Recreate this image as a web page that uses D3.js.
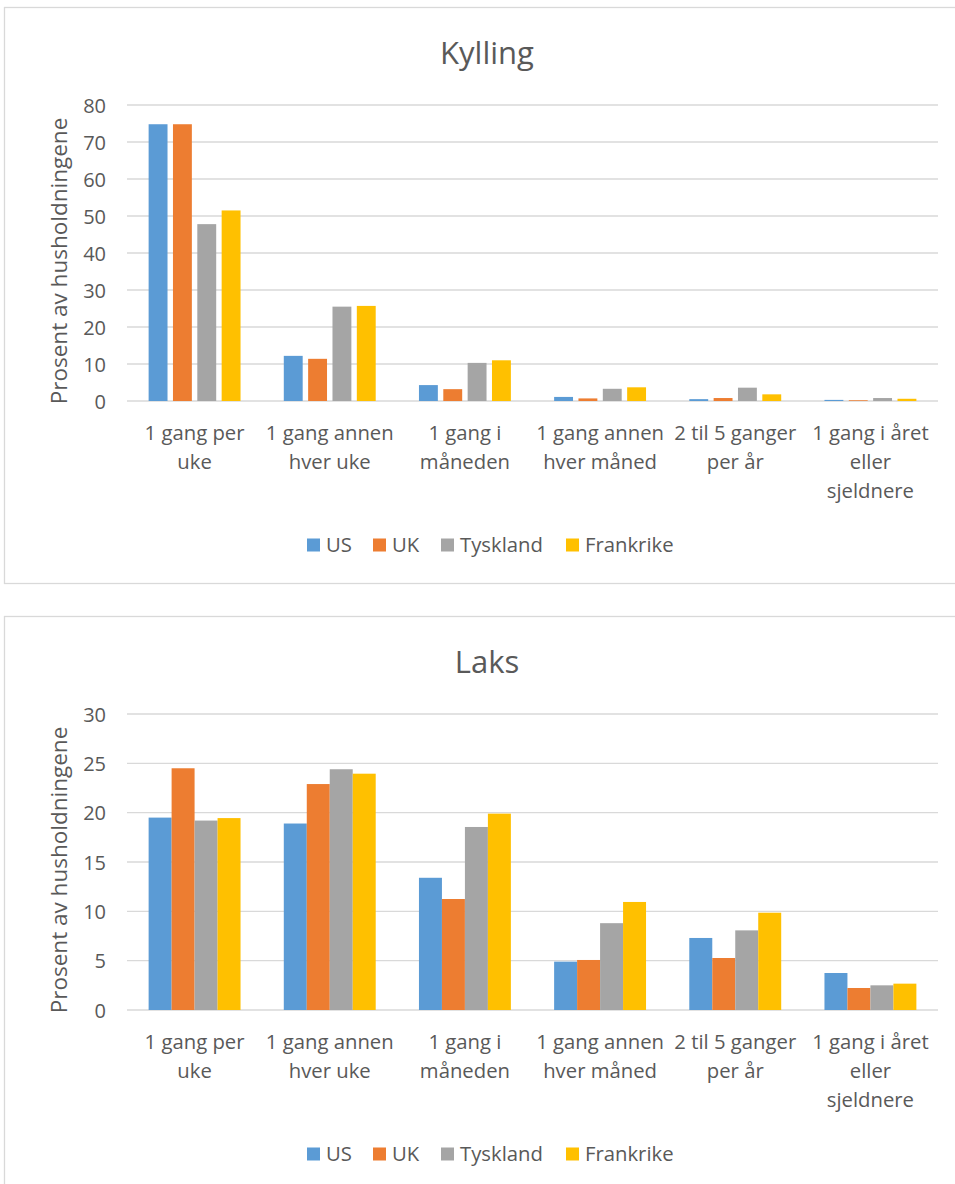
<!DOCTYPE html>
<html>
<head>
<meta charset="utf-8">
<script src="https://cdn.jsdelivr.net/npm/d3@7"></script>
<style>
  html, body { margin: 0; padding: 0; background: #fff; }
  svg { display: block; }
  text { font-family: "Open Sans", sans-serif; fill: #595959; }
</style>
</head>
<body>
<svg id="chart" width="955" height="1184"></svg>
<script>
// ---- data ----
const categories = [
  "1 gang per\nuke",
  "1 gang annen\nhver uke",
  "1 gang i\nmåneden",
  "1 gang annen\nhver måned",
  "2 til 5 ganger\nper år",
  "1 gang i året\neller\nsjeldnere"
];
const seriesNames = ["US", "UK", "Tyskland", "Frankrike"];
const seriesColors = ["#5B9BD5", "#ED7D31", "#A5A5A5", "#FFC000"];

const kyllingUS        = [74.8, 12.2, 4.3, 1.1, 0.5, 0.3];
const kyllingUK        = [74.8, 11.4, 3.2, 0.7, 0.8, 0.2];
const kyllingTyskland  = [47.8, 25.5, 10.3, 3.3, 3.6, 0.8];
const kyllingFrankrike = [51.5, 25.7, 11.0, 3.7, 1.8, 0.6];
const kyllingTicks     = [0, 10, 20, 30, 40, 50, 60, 70, 80];

const laksUS        = [19.5, 18.9, 13.4, 4.9, 7.3, 3.75];
const laksUK        = [24.5, 22.9, 11.25, 5.07, 5.27, 2.23];
const laksTyskland  = [19.2, 24.4, 18.55, 8.8, 8.07, 2.5];
const laksFrankrike = [19.45, 23.95, 19.9, 10.95, 9.86, 2.67];
const laksTicks     = [0, 5, 10, 15, 20, 25, 30];

const yTitle = "Prosent av husholdningene";

// ---- drawing ----
const svg = d3.select("#chart");

function drawChart(top, title, values, ticks, innerPad) {
  const g = svg.append("g").attr("transform", `translate(0,${top})`);
  // outer box
  g.append("rect")
    .attr("x", 4.5).attr("y", 0.5)
    .attr("width", 965).attr("height", 576)
    .attr("fill", "#fff").attr("stroke", "#D9D9D9").attr("stroke-width", 1.3);

  const plotL = 127, plotR = 938, plotT = 98, plotB = 394;

  g.append("text")
    .attr("x", 487).attr("y", 45)
    .attr("text-anchor", "middle").attr("dominant-baseline", "central")
    .style("font-size", "31px")
    .text(title);

  const y = d3.scaleLinear().domain([0, ticks[ticks.length - 1]]).range([plotB, plotT]);
  const x0 = d3.scaleBand().domain(d3.range(categories.length)).range([plotL, plotR]);
  const groupW = x0.bandwidth() * 0.68;
  const x1 = d3.scaleBand().domain(d3.range(seriesNames.length))
    .range([0, groupW]).paddingInner(innerPad).paddingOuter(0);

  // gridlines
  g.append("g").selectAll("line").data(ticks).join("line")
    .attr("x1", plotL).attr("x2", plotR)
    .attr("y1", d => y(d)).attr("y2", d => y(d))
    .attr("stroke", "#D9D9D9").attr("stroke-width", 1.3);

  // y tick labels
  g.append("g").selectAll("text").data(ticks).join("text")
    .attr("x", 106).attr("y", d => y(d))
    .attr("text-anchor", "end").attr("dominant-baseline", "central")
    .style("font-size", "20px")
    .text(d => d);

  // y title
  g.append("text")
    .attr("transform", `translate(58,${(plotT + plotB) / 2 + 8}) rotate(-90)`)
    .attr("text-anchor", "middle").attr("dominant-baseline", "central")
    .style("font-size", "22.5px")
    .text(yTitle);

  // bars
  const groups = g.append("g").selectAll("g").data(categories).join("g")
    .attr("transform", (d, i) => `translate(${x0(i) + (x0.bandwidth() - groupW) / 2},0)`);
  groups.selectAll("rect")
    .data((d, i) => values.map((s, k) => ({ k, v: s[i] })))
    .join("rect")
    .attr("x", d => x1(d.k)).attr("width", x1.bandwidth())
    .attr("y", d => y(d.v)).attr("height", d => plotB - y(d.v))
    .attr("fill", d => seriesColors[d.k]);

  // category labels
  const lab = g.append("g").selectAll("text").data(categories).join("text")
    .attr("text-anchor", "middle")
    .style("font-size", "20.3px");
  lab.each(function (d, i) {
    const t = d3.select(this);
    d.split("\n").forEach((line, j) => {
      t.append("tspan")
        .attr("x", x0(i) + x0.bandwidth() / 2)
        .attr("y", plotB + 39 + j * 29)
        .text(line);
    });
  });

  // legend
  const legX = [307, 373, 441, 566];
  const leg = g.append("g").selectAll("g").data(seriesNames).join("g")
    .attr("transform", (d, i) => `translate(${legX[i]},538)`);
  leg.append("rect").attr("x", 0).attr("y", -6.5).attr("width", 13).attr("height", 13)
    .attr("fill", (d, i) => seriesColors[i]);
  leg.append("text").attr("x", 19).attr("y", -1)
    .attr("dominant-baseline", "central")
    .style("font-size", "20.3px")
    .text(d => d);
}

drawChart(7, "Kylling",
  [kyllingUS, kyllingUK, kyllingTyskland, kyllingFrankrike], kyllingTicks, 0.224);
drawChart(616, "Laks",
  [laksUS, laksUK, laksTyskland, laksFrankrike], laksTicks, 0);
</script>
</body>
</html>
